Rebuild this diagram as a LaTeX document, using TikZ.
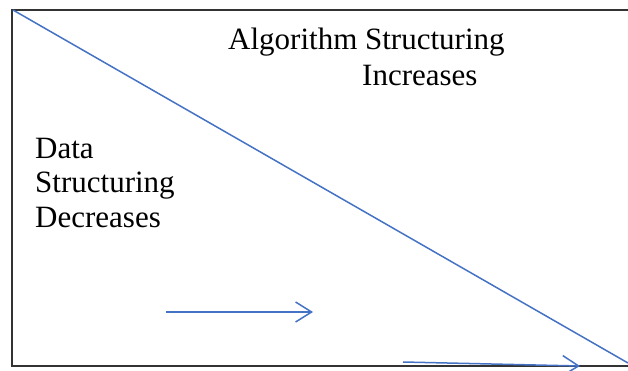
\documentclass[tikz,border=0pt]{standalone}
\usepackage{fontspec}
\setmainfont{Liberation Serif}
\usetikzlibrary{arrows.meta}
\definecolor{lineblue}{RGB}{68,114,196}
\tikzset{
  label text/.style={draw=none, inner sep=0pt, font=\fontsize{31}{34}\selectfont},
  blue line/.style={lineblue, line width=1.5pt},
  blue arrow/.style={lineblue, line width=1.5pt, -{Straight Barb[length=16pt,width=20pt,line width=1.5pt]}}
}
\begin{document}
\begin{tikzpicture}[x=1pt,y=-1pt]
			\useasboundingbox (0,0) rectangle (628,371);

			% frame, open on the right
			\draw[black!80, line width=1.5pt] (628,10) -- (12,10) -- (12,366) -- (628,366);

			% diagonal
			\coordinate (top) at (13,10);
			\coordinate (bottom) at (628,363);
			\draw[blue line] (top) to (bottom);

			\node (alg) [label text, anchor=base west] at (228,50) {Algorithm Structuring};
			\node (inc) [label text, anchor=base west] at (362,86) {Increases};

			\node (data) [label text, anchor=base west] at (35,159) {Data};
			\node (struct) [label text, anchor=base west] at (35,193) {Structuring};
			\node (dec) [label text, anchor=base west] at (35,227) {Decreases};

			\coordinate (a1) at (166,312);
			\coordinate (b1) at (313,312);
			\coordinate (a2) at (403,362);
			\coordinate (b2) at (580,366);
			\draw[blue arrow] (a1) to (b1);
			\draw[blue arrow] (a2) to (b2);
		\end{tikzpicture}
\end{document}
